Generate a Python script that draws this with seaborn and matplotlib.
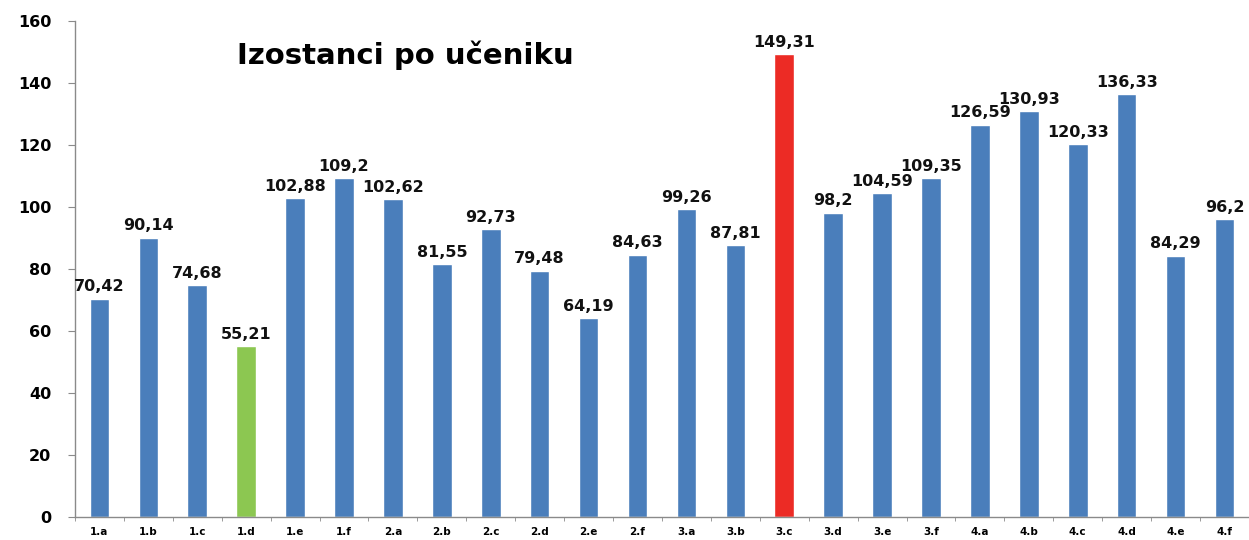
import matplotlib
matplotlib.use('Agg')
import matplotlib.pyplot as plt
import seaborn as sns
import pandas as pd

# Data
razredi = ['1.a', '1.b', '1.c', '1.d', '1.e', '1.f',
           '2.a', '2.b', '2.c', '2.d', '2.e', '2.f',
           '3.a', '3.b', '3.c', '3.d', '3.e', '3.f',
           '4.a', '4.b', '4.c', '4.d', '4.e', '4.f']
izostanci = [70.42, 90.14, 74.68, 55.21, 102.88, 109.2,
             102.62, 81.55, 92.73, 79.48, 64.19, 84.63,
             99.26, 87.81, 149.31, 98.2, 104.59, 109.35,
             126.59, 130.93, 120.33, 136.33, 84.29, 96.2]

# lowest bar green, highest red, rest blue
blue, green, red = '#4a7ebb', '#8cc751', '#ec2b25'
lo, hi = min(izostanci), max(izostanci)
boje = [green if v == lo else red if v == hi else blue for v in izostanci]

df = pd.DataFrame({'Razred': razredi, 'Izostanci': izostanci})

sns.set_style('white')
plt.rcParams['font.family'] = ['DejaVu Sans']
plt.rcParams['text.color'] = 'black'
plt.rcParams['xtick.color'] = 'black'
plt.rcParams['ytick.color'] = 'black'

fig = plt.figure(figsize=(12.49, 5.40), dpi=100)
ax = fig.add_axes([0.06, 0.043, 0.94, 0.918])

sns.barplot(data=df, x='Razred', y='Izostanci', hue='Razred',
            palette=boje, width=0.4, legend=False, ax=ax, saturation=1)

# value labels with decimal comma
for i, v in enumerate(izostanci):
    ax.annotate(str(v).replace('.', ','), (i, v), xytext=(0, 3),
                textcoords='offset points', ha='center', va='bottom',
                fontsize=11.5, fontweight='bold', color='#111111')

ax.set_ylim(0, 160)
ax.set_xlim(-0.45, 23.5)
ax.set_yticks(range(0, 161, 20))
ax.set_xlabel('')
ax.set_ylabel('')

for s in ['top', 'right']:
    ax.spines[s].set_visible(False)
for s in ['left', 'bottom']:
    ax.spines[s].set_color('#8a8a8a')
    ax.spines[s].set_linewidth(1.0)

ax.tick_params(axis='y', which='both', left=True, length=5, color='#8a8a8a',
               labelsize=11.5, pad=12)
ax.tick_params(axis='x', which='major', bottom=False, labelsize=7.5, pad=4)
# small ticks between categories on the x axis
ax.set_xticks([i + 0.5 for i in range(-1, 24)], minor=True)
ax.tick_params(axis='x', which='minor', bottom=True, length=3, color='#8a8a8a')
for lbl in ax.get_yticklabels() + ax.get_xticklabels():
    lbl.set_fontweight('bold')

fig.text(0.19, 0.898, 'Izostanci po učeniku', fontsize=21, fontweight='bold',
         color='black', ha='left', va='center')

fig.savefig('out.png', dpi=100)
